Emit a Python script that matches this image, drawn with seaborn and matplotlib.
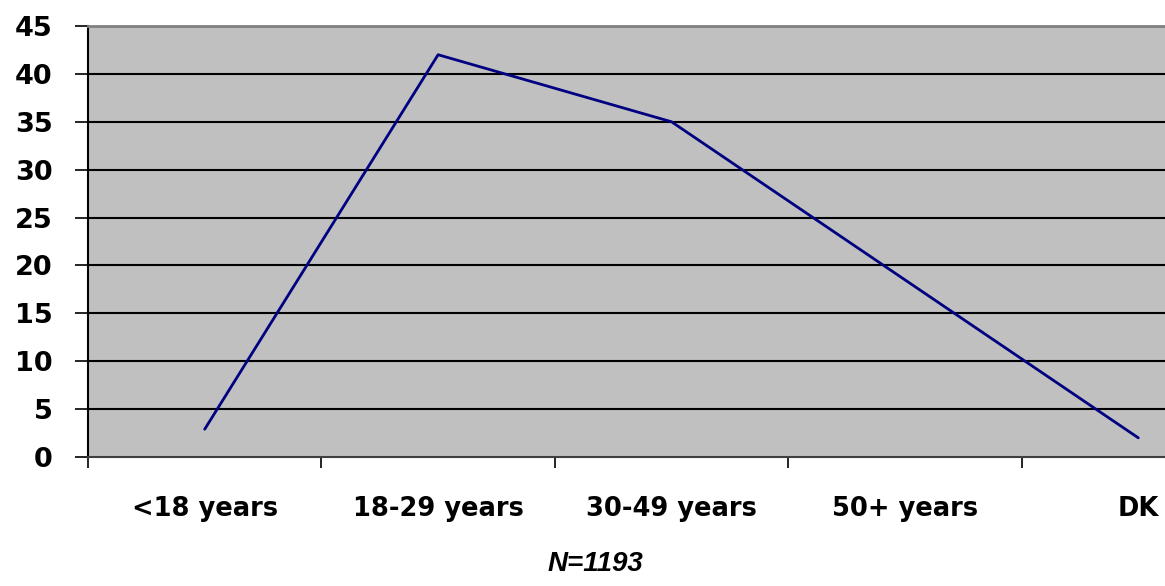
import matplotlib
matplotlib.use("Agg")
import matplotlib.pyplot as plt
import seaborn as sns
import pandas as pd

categories = ["<18 years", "18-29 years", "30-49 years", "50+ years", "DK"]
values = [2.9, 42.0, 35.0, 18.5, 2.0]
y_ticks = [0, 5, 10, 15, 20, 25, 30, 35, 40, 45]
note = "N=1193"

df = pd.DataFrame({"cat": categories, "val": values})

sns.set_style("white")
plt.rcParams["font.family"] = ["DejaVu Sans"]
plt.rcParams["text.color"] = "black"

W, H = 1165, 586
fig = plt.figure(figsize=(W / 100, H / 100), dpi=100)
left, right_px, top, bottom = 88, 88 + 233.4 * 5, 26, 457
ax = fig.add_axes([left / W, (H - bottom) / H, (right_px - left) / W, (bottom - top) / H])
ax.set_facecolor("#C0C0C0")

sns.lineplot(data=df, x="cat", y="val", ax=ax, color="#000080", linewidth=2, sort=False)

ax.set_xlim(-0.5, len(categories) - 0.5)
ax.set_ylim(0, 45)
ax.set_yticks(y_ticks)
ax.set_yticklabels([str(t) for t in y_ticks], fontsize=19.5, fontweight="bold")
ax.set_xticks(range(len(categories)))
ax.set_xticklabels(categories, fontsize=18.5, fontweight="bold")
ax.set_xticks([i - 0.5 for i in range(len(categories))], minor=True)
ax.tick_params(axis="x", which="both", bottom=True, labelcolor="black")
ax.tick_params(axis="y", which="major", left=True, labelcolor="black")
ax.tick_params(axis="x", which="major", length=0, pad=28)
ax.tick_params(axis="x", which="minor", length=8, width=1.2, color="black", direction="out")
ax.tick_params(axis="y", length=9.5, width=1.2, color="black", direction="out", pad=16)
ax.set_xlabel("")
ax.set_ylabel("")

for t in y_ticks[1:-1]:
    ax.axhline(t, color="black", linewidth=1.5, zorder=1)

ax.spines["top"].set_color("#808080")
ax.spines["top"].set_linewidth(2)
ax.spines["left"].set_color("black")
ax.spines["left"].set_linewidth(1.5)
ax.spines["bottom"].set_color("#404040")
ax.spines["bottom"].set_linewidth(1.5)
ax.spines["right"].set_visible(False)

fig.text(595 / W, 1 - 564 / H, note, ha="center", va="center", fontsize=20, color="black",
         fontweight="bold", fontstyle="italic", family=["Liberation Sans", "DejaVu Sans"])

fig.savefig("out.png", dpi=100)
